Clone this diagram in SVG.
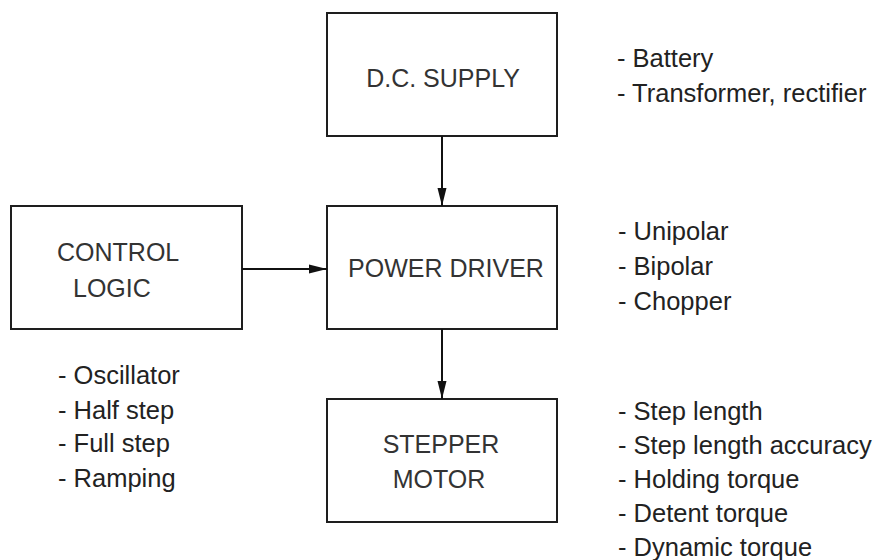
<svg xmlns="http://www.w3.org/2000/svg" width="879" height="560" viewBox="0 0 879 560">
<defs>
<style>
.box{fill:#fff;stroke:#1e1e1e;stroke-width:2}
.lbl{font-family:"Liberation Sans",Arial,sans-serif;font-size:25px;fill:#333}
.lst{font-family:"Liberation Sans",Arial,sans-serif;font-size:25.5px;fill:#222}
.con{stroke:#111;stroke-width:2;fill:none}
</style>
<marker id="ah" markerWidth="18" markerHeight="10" refX="18" refY="5" orient="auto" markerUnits="userSpaceOnUse">
<path d="M0,0.5 L18,5 L0,9.5 Z" fill="#111"/>
</marker>
</defs>
<rect width="879" height="560" fill="#fff"/>
<g id="dc-supply">
<rect class="box" x="327" y="13" width="230" height="123"/>
<text class="lbl" x="443" y="87" text-anchor="middle">D.C. SUPPLY</text>
</g>
<g id="control-logic">
<rect class="box" x="11" y="206" width="231" height="123"/>
<text class="lbl" x="57" y="261">CONTROL</text>
<text class="lbl" x="73" y="297">LOGIC</text>
</g>
<g id="power-driver">
<rect class="box" x="327" y="206" width="230" height="123"/>
<text class="lbl" x="446" y="277" text-anchor="middle">POWER DRIVER</text>
</g>
<g id="stepper-motor">
<rect class="box" x="327" y="399" width="230" height="123"/>
<text class="lbl" x="441" y="453" text-anchor="middle">STEPPER</text>
<text class="lbl" x="439" y="488" text-anchor="middle">MOTOR</text>
</g>
<g id="connectors">
<line class="con" x1="442" y1="136" x2="442" y2="206" marker-end="url(#ah)"/>
<line class="con" x1="242" y1="269" x2="327" y2="269" marker-end="url(#ah)"/>
<line class="con" x1="442" y1="329" x2="442" y2="399" marker-end="url(#ah)"/>
</g>
<g id="supply-notes">
<text class="lst" x="617" y="67">- Battery</text>
<text class="lst" x="617" y="102">- Transformer, rectifier</text>
</g>
<g id="driver-notes">
<text class="lst" x="618" y="240">- Unipolar</text>
<text class="lst" x="618" y="275">- Bipolar</text>
<text class="lst" x="618" y="310">- Chopper</text>
</g>
<g id="logic-notes">
<text class="lst" x="58" y="384">- Oscillator</text>
<text class="lst" x="58" y="419">- Half step</text>
<text class="lst" x="58" y="452">- Full step</text>
<text class="lst" x="58" y="487">- Ramping</text>
</g>
<g id="motor-notes">
<text class="lst" x="618" y="420">- Step length</text>
<text class="lst" x="618" y="454">- Step length accuracy</text>
<text class="lst" x="618" y="488">- Holding torque</text>
<text class="lst" x="618" y="522">- Detent torque</text>
<text class="lst" x="618" y="556">- Dynamic torque</text>
</g>
</svg>
